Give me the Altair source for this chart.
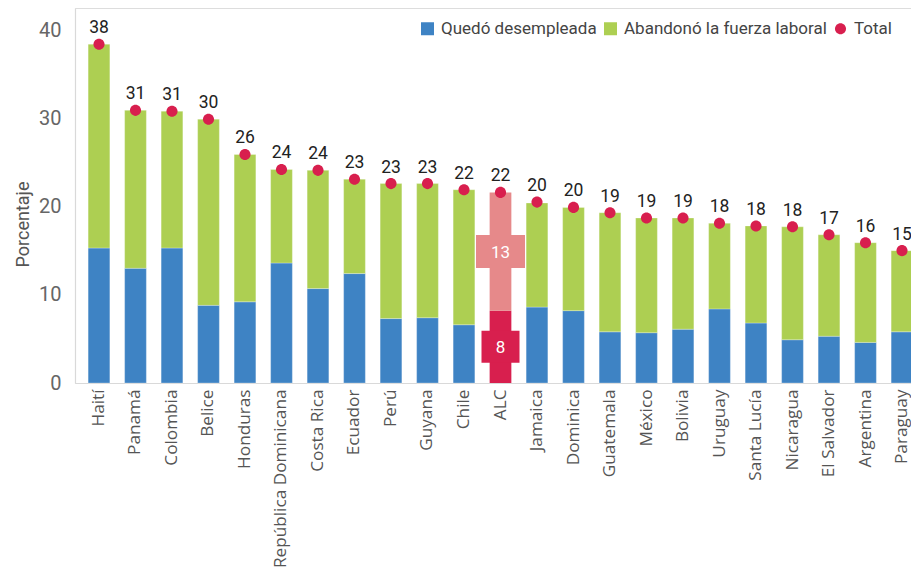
import altair as alt
import pandas as pd

paises = ["Haití", "Panamá", "Colombia", "Belice", "Honduras", "República Dominicana",
          "Costa Rica", "Ecuador", "Perú", "Guyana", "Chile", "ALC", "Jamaica", "Dominica",
          "Guatemala", "México", "Bolivia", "Uruguay", "Santa Lucía", "Nicaragua",
          "El Salvador", "Argentina", "Paraguay"]
desempleo = [15.3, 13.0, 15.3, 8.8, 9.2, 13.6, 10.7, 12.4, 7.3, 7.4, 6.6, 8.2, 8.6, 8.2,
             5.8, 5.7, 6.1, 8.4, 6.8, 4.9, 5.3, 4.6, 5.8]
abandono = [23.1, 17.9, 15.5, 21.1, 16.7, 10.6, 13.4, 10.7, 15.3, 15.2, 15.3, 13.4, 11.8, 11.7,
            13.5, 13.0, 12.6, 9.7, 11.0, 12.8, 11.5, 11.3, 9.2]
total = [38.4, 30.9, 30.8, 29.9, 25.9, 24.2, 24.1, 23.1, 22.6, 22.6, 21.9, 21.6, 20.5, 19.9,
         19.3, 18.7, 18.7, 18.1, 17.8, 17.7, 16.8, 15.9, 15.0]
series = ["Quedó desempleada", "Abandonó la fuerza laboral", "Total"]
colores = ["#3E83C4", "#ADCF52", "#D81F4E"]
colores_alc = ["#D81F4E", "#E6898A"]
destacado = "ALC"

FONT = "Roboto"
FONT_X = "Open Sans"
CIRCLE = "M0.85,0A0.85,0.85 0 1,1 -0.85,0A0.85,0.85 0 1,1 0.85,0Z"
BOX_WIDE = "M-1,-0.67L1,-0.67L1,0.67L-1,0.67Z"
BOX_NARROW = "M-1,-0.84L1,-0.84L1,0.84L-1,0.84Z"

rows = []
for p, d, a in zip(paises, desempleo, abandono):
    if p == destacado:
        continue
    rows.append({"pais": p, "serie": series[0], "valor": d, "orden": 0})
    rows.append({"pais": p, "serie": series[1], "valor": a, "orden": 1})
df_bars = pd.DataFrame(rows)

i = paises.index(destacado)
df_alc = pd.DataFrame([
    {"pais": destacado, "y0": 0.0, "y1": desempleo[i], "etiqueta": round(desempleo[i])},
    {"pais": destacado, "y0": desempleo[i], "y1": desempleo[i] + abandono[i],
     "etiqueta": round(abandono[i])},
])
df_alc["mid"] = (df_alc["y0"] + df_alc["y1"]) / 2

df_tot = pd.DataFrame({"pais": paises, "total": total, "serie": "Total"})
df_tot["etiqueta"] = df_tot["total"].round().astype(int)

x_scale = alt.Scale(domain=paises, paddingInner=0.405, paddingOuter=0.36)
y_scale = alt.Scale(domain=[0, 42.5], nice=False)
color_scale = alt.Scale(domain=series, range=colores)
shape_scale = alt.Scale(domain=series, range=["square", "square", CIRCLE])

x_enc = alt.X("pais:N", scale=x_scale, sort=paises,
              axis=alt.Axis(title=None, labelAngle=270, labelFontSize=17.2, labelColor="#555555",
                            labelFont=FONT_X, ticks=False, labelPadding=6, domainColor="#d9d9d9",
                            domainWidth=1.2, labelLimit=400))
x_plain = alt.X("pais:N", scale=x_scale, sort=paises)

bars = alt.Chart(df_bars).mark_bar(stroke="#ffffff", strokeWidth=0.8, strokeOpacity=0.35).encode(
    x=x_enc,
    y=alt.Y("sum(valor):Q", scale=y_scale, stack="zero",
            axis=alt.Axis(title="Porcentaje", values=[0, 10, 20, 30, 40], grid=False,
                          ticks=False, labelFontSize=20, labelColor="#666666", labelFont=FONT,
                          labelPadding=14, domainColor="#d9d9d9", domainWidth=1.2,
                          titleFontSize=18, titleFont=FONT, titleColor="#555555",
                          titleFontWeight="normal", titleX=-52, titleY=216,
                          titleBaseline="middle", titleAlign="center")),
    color=alt.Color("serie:N", scale=color_scale,
                    legend=alt.Legend(title=None, orient="none", direction="horizontal",
                                      legendX=344, legendY=12, labelFontSize=17,
                                      labelFont=FONT, labelColor="#444444", symbolSize=169,
                                      columnPadding=5, labelOffset=5, symbolStrokeWidth=0,
                                      labelLimit=400)),
    order=alt.Order("orden:Q"),
)

alc_bars = alt.Chart(df_alc).mark_bar().encode(
    x=x_plain,
    y=alt.Y("y0:Q", scale=y_scale),
    y2="y1:Q",
    fill=alt.Fill("etiqueta:N", scale=alt.Scale(range=colores_alc), legend=None),
)

alc_box_low = alt.Chart(df_alc).transform_filter(alt.datum.y0 == 0).mark_point(
    shape=BOX_NARROW, filled=True, opacity=1, size=1444, color=colores_alc[0]
).encode(x=x_plain, y=alt.Y("mid:Q", scale=y_scale))

alc_box_high = alt.Chart(df_alc).transform_filter(alt.datum.y0 > 0).mark_point(
    shape=BOX_WIDE, filled=True, opacity=1, size=2401, color=colores_alc[1]
).encode(x=x_plain, y=alt.Y("mid:Q", scale=y_scale))

alc_text = alt.Chart(df_alc).mark_text(color="white", fontSize=17, font=FONT,
                                       baseline="middle", dy=1).encode(
    x=x_plain, y=alt.Y("mid:Q", scale=y_scale), text="etiqueta:N")

dots = alt.Chart(df_tot).mark_point(filled=True, opacity=1, size=170).encode(
    x=x_plain,
    y=alt.Y("total:Q", scale=y_scale),
    color=alt.Color("serie:N", scale=color_scale),
    shape=alt.Shape("serie:N", scale=shape_scale,
                    legend=alt.Legend(title=None, orient="none", direction="horizontal",
                                      legendX=344, legendY=12)),
)

labels = alt.Chart(df_tot).mark_text(fontSize=17.5, font=FONT, color="#222222",
                                     baseline="alphabetic", dy=-11).encode(
    x=x_plain, y=alt.Y("total:Q", scale=y_scale), text="etiqueta:N")

chart = alt.layer(bars, alc_bars, alc_box_low, alc_box_high, alc_text, dots, labels).properties(
    width=851, height=375,
    autosize=alt.AutoSizeParams(type="none"),
    padding={"left": 67, "top": 0, "right": -15, "bottom": 188},
).configure_view(stroke=None).configure(background="white")

chart.save("out.html", embed_options={"renderer": "svg", "actions": False})
